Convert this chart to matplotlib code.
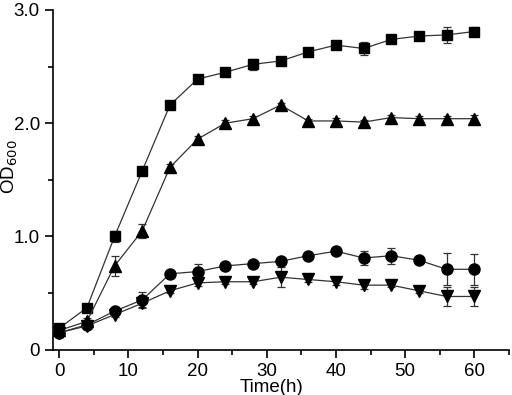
import matplotlib
matplotlib.use("Agg")
import matplotlib.pyplot as plt
import numpy as np

plt.rcParams['font.family'] = ['Liberation Sans', 'DejaVu Sans']

time_h = [0, 4, 8, 12, 16, 20, 24, 28, 32, 36, 40, 44, 48, 52, 56, 60]

square_vals = [0.19, 0.37, 1.00, 1.58, 2.16, 2.39, 2.45, 2.52, 2.55, 2.63, 2.69, 2.66, 2.74, 2.77, 2.78, 2.81]
square_err = [0.02, 0.02, 0.05, 0.02, 0.02, 0.02, 0.03, 0.05, 0.02, 0.02, 0.02, 0.06, 0.02, 0.02, 0.07, 0.04]

tri_vals = [0.17, 0.25, 0.74, 1.05, 1.61, 1.86, 2.00, 2.04, 2.16, 2.02, 2.02, 2.01, 2.05, 2.04, 2.04, 2.04]
tri_err = [0.02, 0.03, 0.09, 0.06, 0.03, 0.03, 0.03, 0.02, 0.02, 0.02, 0.03, 0.02, 0.02, 0.02, 0.02, 0.03]

circ_vals = [0.15, 0.22, 0.34, 0.44, 0.67, 0.69, 0.74, 0.76, 0.78, 0.83, 0.87, 0.81, 0.83, 0.79, 0.71, 0.71]
circ_err = [0.02, 0.02, 0.02, 0.07, 0.02, 0.07, 0.02, 0.02, 0.02, 0.02, 0.02, 0.06, 0.07, 0.02, 0.14, 0.135]

inv_vals = [0.15, 0.21, 0.31, 0.41, 0.52, 0.59, 0.60, 0.60, 0.64, 0.62, 0.60, 0.57, 0.57, 0.52, 0.47, 0.47]
inv_err = [0.02, 0.02, 0.02, 0.03, 0.02, 0.03, 0.02, 0.02, 0.09, 0.02, 0.03, 0.03, 0.02, 0.02, 0.08, 0.08]

fig = plt.figure(figsize=(5.12, 3.95), dpi=100)
ax = fig.add_axes([0.1035, 0.1147, 0.8905, 0.86])

series = [
    (square_vals, square_err, 's', 7),
    (tri_vals, tri_err, '^', 8),
    (circ_vals, circ_err, 'o', 8),
    (inv_vals, inv_err, 'v', 8),
]
for vals, err, mk, ms in series:
    ax.errorbar(time_h, vals, yerr=err, fmt='-', marker=mk, color='#333333',
                mfc='black', mec='black', ms=ms, lw=0.9, elinewidth=0.9,
                ecolor='#333333', capsize=3, capthick=0.9)

ax.set_xlim(-0.9, 65)
ax.set_ylim(0, 3.0)
ax.set_xticks([0, 10, 20, 30, 40, 50, 60])
ax.set_xticks([5, 15, 25, 35, 45, 55, 65], minor=True)
ax.set_yticks([0, 1.0, 2.0, 3.0])
ax.set_yticklabels(['0', '1.0', '2.0', '3.0'])
ax.set_yticks([0.5, 1.5, 2.5], minor=True)

for s in ['top', 'right']:
    ax.spines[s].set_visible(False)
for s in ['left', 'bottom']:
    ax.spines[s].set_linewidth(1.2)

ax.tick_params(axis='both', which='major', direction='out', length=6, width=1.2, labelsize=13.5)
ax.tick_params(axis='both', which='minor', direction='out', length=3.5, width=1.2)

ax.set_xlabel('Time(h)', fontsize=13.5, labelpad=0)
ax.set_ylabel('OD$_{600}$', fontsize=13.5)
ax.xaxis.set_label_coords(0.48, -0.085)
ax.yaxis.set_label_coords(-0.072, 0.54)

fig.savefig('out.png', dpi=100)
